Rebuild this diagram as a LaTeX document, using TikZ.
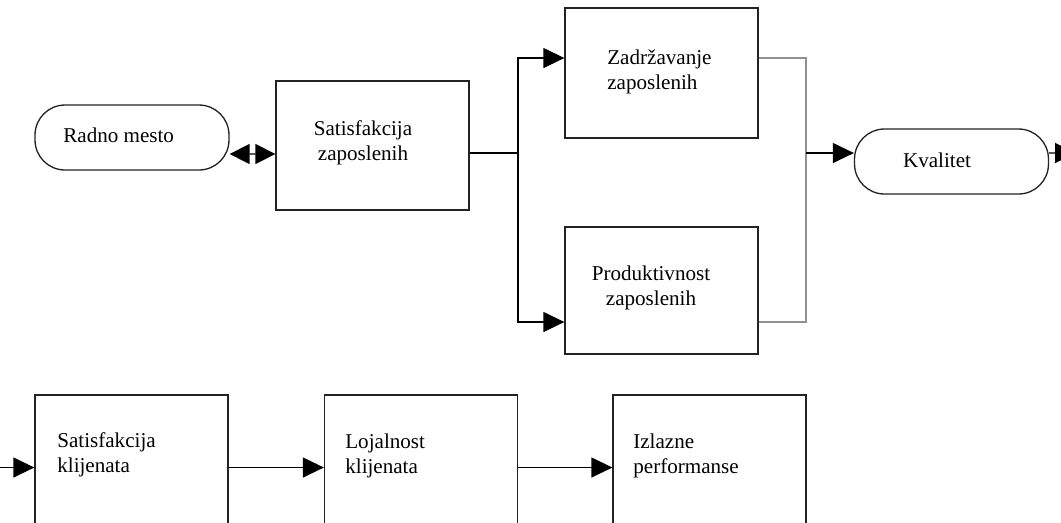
\documentclass[tikz,border=0pt]{standalone}
\usepackage{fontspec}
\setmainfont{Liberation Serif}
\usetikzlibrary{arrows.meta,positioning}
\definecolor{boxgray}{RGB}{35,35,35}
\definecolor{linegray}{RGB}{145,145,145}

\begin{document}
\begin{tikzpicture}[
    x=0.02cm, y=-0.02cm,
    blok/.style={draw=boxgray, line width=0.75pt, minimum width=3.86cm, inner sep=0pt},
    term/.style={draw=boxgray, line width=0.75pt, rounded corners=0.6cm, minimum width=3.88cm, minimum height=1.3cm, inner sep=0pt},
    lbl/.style={font=\fontsize{12}{14.5}\selectfont, align=left, inner sep=0pt},
    ln/.style={draw=black, line width=0.75pt},
    gln/.style={draw=linegray, line width=1pt},
    arr/.style={ln, -{Triangle[length=0.42cm, width=0.4cm]}},
    darr/.style={ln, {Triangle[length=0.4cm, width=0.4cm]}-{Triangle[length=0.4cm, width=0.4cm]}}
  ]
  \useasboundingbox (0,0) rectangle (1061,522);
  \clip (0,0) rectangle (1061,522);

  % upper chain
  \node[term] (radno) at (132,137.5) {};
  \node[lbl, anchor=west] (radnotxt) at (63,135) {Radno mesto};
  \node[blok, minimum height=2.58cm] (satz) at (372.5,145.5) {};
  \node[lbl, align=center] (satztxt) at (363,143) {Satisfakcija\\zaposlenih};
  \node[blok, minimum height=2.6cm] (zadr) at (661.5,73) {};
  \node[lbl, anchor=west] (zadrtxt) at (607,72) {Zadržavanje\\zaposlenih};
  \node[blok, minimum height=2.54cm] (prod) at (661.5,290.5) {};
  \node[lbl, align=center] (prodtxt) at (651,288) {Produktivnost\\zaposlenih};
  \node[term] (kval) at (951.5,161.5) {};
  \node[lbl] (kvaltxt) at (937,160) {Kvalitet};

  \coordinate (split) at (518,153);
  \coordinate (join) at (806,153);
  \coordinate (kout) at (1076,153);

  \draw[darr] ([yshift=-0.33cm]radno.east) -- ([yshift=-0.17cm]satz.west);
  \draw[ln] (split -| satz.east) -- (split);
  \draw[arr] (split) |- ([yshift=0.3cm]zadr.west);
  \draw[arr] (split) |- ([yshift=-0.63cm]prod.west);
  \draw[gln] ([yshift=0.3cm]zadr.east) -| (join);
  \draw[gln] ([yshift=-0.63cm]prod.east) -| (join);
  \draw[arr] (join) -- (join -| kval.west);
  \draw[arr] ([yshift=0.17cm]kval.east) -- (kout);

  % lower chain
  \node[blok, minimum height=2.9cm] (satk) at (131.5,467.5) {};
  \node[lbl, anchor=west] (satktxt) at (57,455) {Satisfakcija\\klijenata};
  \node[blok, minimum height=2.9cm] (loj) at (421,467.5) {};
  \node[lbl, anchor=west] (lojtxt) at (345,456) {Lojalnost\\klijenata};
  \node[blok, minimum height=2.9cm] (izl) at (709.5,467.5) {};
  \node[lbl, anchor=west] (izltxt) at (633,456) {Izlazne\\performanse};

  \coordinate (kin) at (-5,467.5);
  \draw[arr] (kin) -- (satk.west);
  \draw[arr] (satk.east) -- (loj.west);
  \draw[arr] (loj.east) -- (izl.west);
\end{tikzpicture}
\end{document}
